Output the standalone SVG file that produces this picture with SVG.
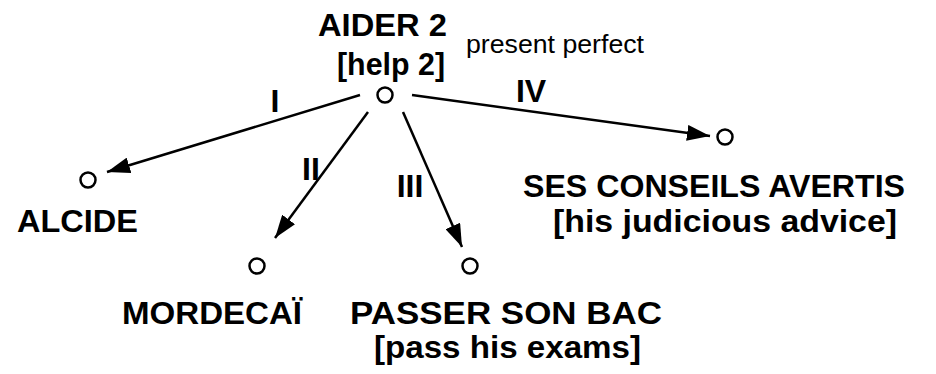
<svg xmlns="http://www.w3.org/2000/svg" width="936" height="374" viewBox="0 0 936 374">
<style>
.b{font-family:"Liberation Sans",Arial,sans-serif;font-weight:bold;font-size:32px;fill:#000}
.r{font-family:"Liberation Sans",Arial,sans-serif;font-size:26px;fill:#000}
.n{fill:#fff;stroke:#000;stroke-width:2.5}
.e{stroke:#000;stroke-width:2.5;fill:none;marker-end:url(#ah)}
</style>
<defs>
<marker id="ah" markerUnits="userSpaceOnUse" markerWidth="24" markerHeight="16" refX="23" refY="8" orient="auto">
<path d="M0,0 L23,8 L0,16 z" fill="#000"/>
</marker>
</defs>
<rect width="936" height="374" fill="#fff"/>
<g id="connectors">
<line class="e" x1="360" y1="95" x2="107" y2="172"/>
<line class="e" x1="368" y1="112" x2="275" y2="238"/>
<line class="e" x1="403" y1="112" x2="462" y2="247"/>
<line class="e" x1="412" y1="95" x2="710" y2="136"/>
<text class="b" x="275" y="112" text-anchor="middle">I</text>
<text class="b" x="311" y="180" text-anchor="middle">II</text>
<text class="b" x="410" y="197" text-anchor="middle">III</text>
<text class="b" x="531" y="102" text-anchor="middle">IV</text>
</g>
<g id="aider">
<circle class="n" cx="385" cy="95" r="7.5"/>
<text class="b" x="382.5" y="36" text-anchor="middle" textLength="129" lengthAdjust="spacingAndGlyphs">AIDER 2</text>
<text class="b" x="391" y="75" text-anchor="middle" textLength="108" lengthAdjust="spacingAndGlyphs">[help 2]</text>
<text class="r" x="466" y="53" textLength="178" lengthAdjust="spacingAndGlyphs">present perfect</text>
</g>
<g id="alcide">
<circle class="n" cx="88" cy="180" r="7.5"/>
<text class="b" x="77.5" y="232" text-anchor="middle" textLength="121" lengthAdjust="spacingAndGlyphs">ALCIDE</text>
</g>
<g id="mordecai">
<circle class="n" cx="257" cy="266" r="7.5"/>
<text class="b" x="212" y="324" text-anchor="middle" textLength="180" lengthAdjust="spacingAndGlyphs">MORDECAÏ</text>
</g>
<g id="passer">
<circle class="n" cx="470" cy="266" r="7.5"/>
<text class="b" x="506" y="324" text-anchor="middle" textLength="312" lengthAdjust="spacingAndGlyphs">PASSER SON BAC</text>
<text class="b" x="507.5" y="358" text-anchor="middle" textLength="267" lengthAdjust="spacingAndGlyphs">[pass his exams]</text>
</g>
<g id="conseils">
<circle class="n" cx="725" cy="137" r="7.5"/>
<text class="b" x="714" y="197" text-anchor="middle" textLength="382" lengthAdjust="spacingAndGlyphs">SES CONSEILS AVERTIS</text>
<text class="b" x="725" y="232" text-anchor="middle" textLength="344" lengthAdjust="spacingAndGlyphs">[his judicious advice]</text>
</g>
</svg>
